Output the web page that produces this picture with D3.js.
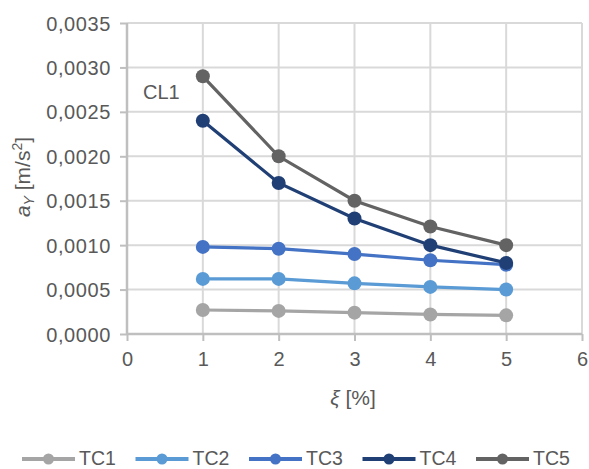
<!DOCTYPE html>
<html><head><meta charset="utf-8">
<script src="https://cdn.jsdelivr.net/npm/d3@7"></script>
<style>body{margin:0;background:#fff}text{font-family:"Liberation Sans",Arial,sans-serif;fill:#595959}</style>
</head><body>
<svg id="c" width="589" height="469"></svg>
<script>
const xValues = [1, 2, 3, 4, 5];
const seriesNames = ["TC1", "TC2", "TC3", "TC4", "TC5"];
const TC1 = [0.00027, 0.00026, 0.00024, 0.00022, 0.00021];
const TC2 = [0.00062, 0.00062, 0.00057, 0.00053, 0.00050];
const TC3 = [0.00098, 0.00096, 0.00090, 0.00083, 0.00078];
const TC4 = [0.0024, 0.0017, 0.0013, 0.0010, 0.0008];
const TC5 = [0.0029, 0.0020, 0.0015, 0.00121, 0.0010];
const colors = ["#a5a5a5", "#5b9bd5", "#4472c4", "#203f75", "#636363"];
const xTicks = [0, 1, 2, 3, 4, 5, 6];
const yTicks = [0, 0.0005, 0.0010, 0.0015, 0.0020, 0.0025, 0.0030, 0.0035];
const seriesValues = [TC1, TC2, TC3, TC4, TC5];

const svg = d3.select("#c");
const L = 127, R = 582, T = 23, B = 334;
const x = d3.scaleLinear().domain([0, 6]).range([L, R]);
const y = d3.scaleLinear().domain([0, 0.0035]).range([B, T]);
const fmt = v => v.toFixed(4).replace(".", ",");

// gridlines
svg.append("g").selectAll("line").data(yTicks.slice(1)).join("line")
  .attr("x1", L).attr("x2", R).attr("y1", d => y(d)).attr("y2", d => y(d))
  .attr("stroke", "#d9d9d9").attr("stroke-width", 2);
svg.append("g").selectAll("line").data(xTicks.slice(1)).join("line")
  .attr("y1", T).attr("y2", B).attr("x1", d => x(d)).attr("x2", d => x(d))
  .attr("stroke", "#d9d9d9").attr("stroke-width", 2);

// axes
const yAxis = svg.append("g").attr("transform", `translate(${L},0)`)
  .call(d3.axisLeft(y).tickValues(yTicks).tickFormat(fmt).tickSize(7).tickPadding(9));
const xAxis = svg.append("g").attr("transform", `translate(0,${B})`)
  .call(d3.axisBottom(x).tickValues(xTicks).tickFormat(d3.format("d")).tickSize(7).tickPadding(11));
[yAxis, xAxis].forEach(a => {
  a.select(".domain").attr("stroke", "#bfbfbf").attr("stroke-width", 2.5);
  a.selectAll(".tick line").attr("stroke", "#bfbfbf").attr("stroke-width", 2);
  a.selectAll(".tick text").attr("font-size", 20).attr("fill", "#595959")
    .attr("font-family", '"Liberation Sans",Arial,sans-serif');
});
yAxis.selectAll(".tick text").attr("letter-spacing", 0.6).attr("dy", "0.35em");
xAxis.select(".domain").attr("d", `M${L},0H${R}`);
yAxis.select(".domain").attr("d", `M0,${T}V${B}`);

// lines
const line = d3.line().x((d, i) => x(xValues[i])).y(d => y(d));
seriesValues.forEach((vals, k) => {
  const g = svg.append("g");
  g.append("path").attr("d", line(vals)).attr("fill", "none")
    .attr("stroke", colors[k]).attr("stroke-width", 3.2);
  g.selectAll("circle").data(vals).join("circle")
    .attr("cx", (d, i) => x(xValues[i])).attr("cy", d => y(d)).attr("r", 7)
    .attr("fill", colors[k]);
});

// CL1 label
svg.append("text").attr("x", 143).attr("y", 99).attr("font-size", 20).text("CL1");

// axis titles
svg.append("text").attr("x", 353).attr("y", 405).attr("text-anchor", "middle")
  .attr("font-size", 21)
  .html('<tspan font-style="italic">ξ</tspan> [%]');
const yt = svg.append("text").attr("transform", "translate(30,177) rotate(-90)")
  .attr("text-anchor", "middle").attr("font-size", 21);
yt.append("tspan").attr("font-style", "italic").text("a");
yt.append("tspan").attr("font-size", 14).attr("dy", 4).attr("font-style", "italic").text("Y");
yt.append("tspan").attr("dy", -4).text(" [m/s");
yt.append("tspan").attr("font-size", 14).attr("dy", -8).text("2");
yt.append("tspan").attr("dy", 8).text("]");

// legend
const lg = svg.append("g");
seriesNames.forEach((n, k) => {
  const x0 = 22 + k * 113.5, cy = 459;
  lg.append("line").attr("x1", x0).attr("x2", x0 + 53).attr("y1", cy).attr("y2", cy)
    .attr("stroke", colors[k]).attr("stroke-width", 4);
  lg.append("circle").attr("cx", x0 + 26.5).attr("cy", cy).attr("r", 5.5).attr("fill", colors[k]);
  lg.append("text").attr("x", x0 + 57).attr("y", cy + 6).attr("font-size", 19.5).text(n);
});
</script>
</body></html>
